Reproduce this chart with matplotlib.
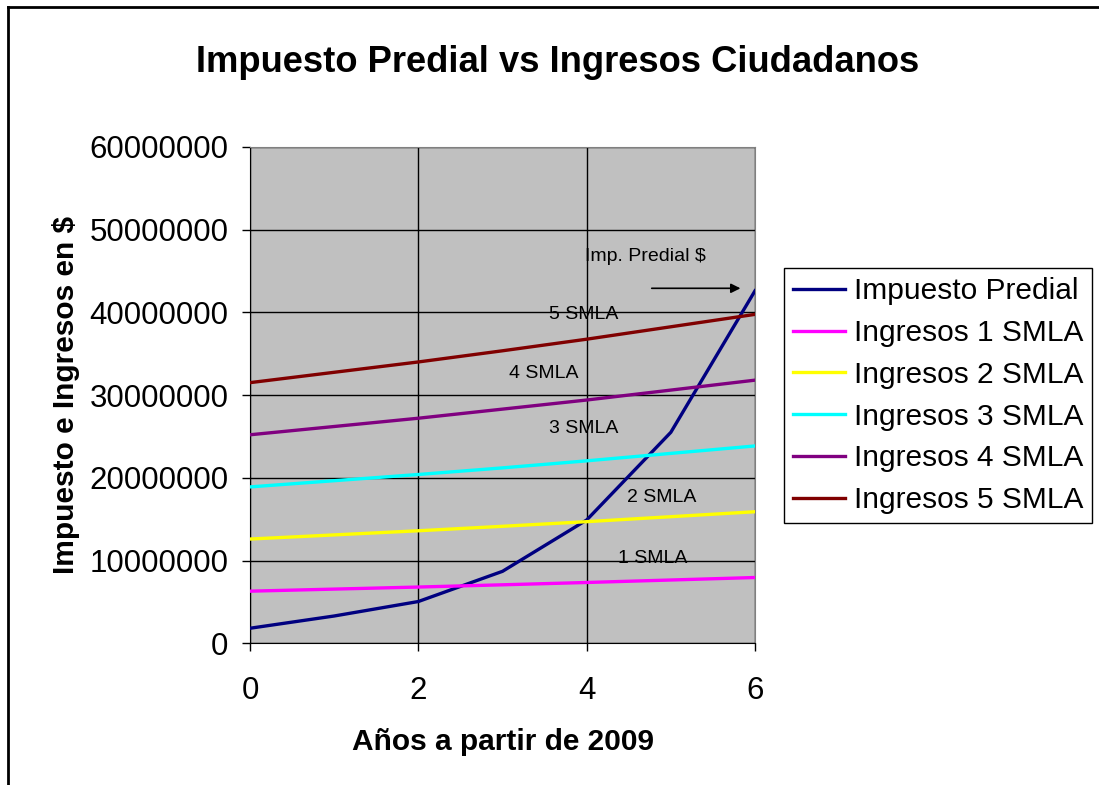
import matplotlib.pyplot as plt
from matplotlib.lines import Line2D

plt.rcParams['font.family'] = ['Liberation Sans', 'DejaVu Sans']

anios = [0, 1, 2, 3, 4, 5, 6]
predial = [1820000, 3300000, 5050000, 8700000, 14900000, 25500000, 42600000]
smla1 = [6300000, 6550000, 6800000, 7070000, 7350000, 7650000, 7950000]
smla2 = [12600000, 13100000, 13600000, 14140000, 14700000, 15300000, 15900000]
smla3 = [18900000, 19650000, 20400000, 21200000, 22050000, 22950000, 23850000]
smla4 = [25200000, 26200000, 27200000, 28300000, 29400000, 30600000, 31800000]
smla5 = [31500000, 32750000, 34000000, 35350000, 36750000, 38250000, 39750000]

series = [
    ("Impuesto Predial", predial, "#000080"),
    ("Ingresos 1 SMLA", smla1, "#FF00FF"),
    ("Ingresos 2 SMLA", smla2, "#FFFF00"),
    ("Ingresos 3 SMLA", smla3, "#00FFFF"),
    ("Ingresos 4 SMLA", smla4, "#800080"),
    ("Ingresos 5 SMLA", smla5, "#800000"),
]

etiquetas = [
    ("5 SMLA", 3.96, 39700000),
    ("4 SMLA", 3.49, 32600000),
    ("3 SMLA", 3.96, 25900000),
    ("2 SMLA", 4.89, 17600000),
    ("1 SMLA", 4.79, 10300000),
]

fig = plt.figure(figsize=(10.99, 7.85), dpi=100)
ax = fig.add_axes([0.2275, 0.1805, 0.4595, 0.6325])
ax.set_facecolor("#C0C0C0")

for nombre, valores, color in series:
    ax.plot(anios, valores, color=color, linewidth=2.4, label=nombre, zorder=3)

ax.set_xlim(0, 6)
ax.set_ylim(0, 60000000)
ax.set_xticks([0, 2, 4, 6])
ax.set_yticks(range(0, 60000001, 10000000))
ax.ticklabel_format(style='plain', axis='y', useOffset=False)
ax.grid(True, color="black", linewidth=1.0, zorder=1)
ax.set_axisbelow(True)
ax.tick_params(axis='both', labelsize=22.5, direction='out', length=5.5, width=1)
ax.tick_params(axis='x', pad=18)
ax.tick_params(axis='y', pad=10)
for s in ax.spines.values():
    s.set_color("#808080")
ax.spines['left'].set_color("black")
ax.spines['bottom'].set_color("black")

ax.set_xlabel("Años a partir de 2009", fontsize=21.5, fontweight='bold', labelpad=16)
ax.set_ylabel("Impuesto e Ingresos en $", fontsize=21.5, fontweight='bold', labelpad=7)
fig.text(0.507, 0.921, "Impuesto Predial vs Ingresos Ciudadanos", fontsize=26.2,
         fontweight='bold', ha='center', va='center')

for txt, x, y in etiquetas:
    ax.text(x, y, txt, fontsize=14, ha='center', va='center', zorder=4)
ax.text(4.70, 46800000, "Imp. Predial $", fontsize=14, ha='center', va='center', zorder=4)
ax.annotate("", xy=(5.86, 42900000), xytext=(4.74, 42900000),
            arrowprops=dict(arrowstyle='-|>', color='black', lw=1.2, mutation_scale=14), zorder=4)

leg = ax.legend(loc='upper left', bbox_to_anchor=(1.057, 0.755), fontsize=21.5,
                frameon=True, fancybox=False, edgecolor='black', framealpha=1,
                handlelength=1.75, handletextpad=0.3, labelspacing=0.46,
                borderpad=0.3, borderaxespad=0)
leg.get_frame().set_linewidth(1.0)

# borde del grafico
fig.add_artist(Line2D([8 / 1099, 8 / 1099], [0, 1 - 7 / 785], color='black', linewidth=2))
fig.add_artist(Line2D([8 / 1099, 1], [1 - 7 / 785, 1 - 7 / 785], color='black', linewidth=2))

fig.savefig("out.png", dpi=100)
plt.close(fig)
